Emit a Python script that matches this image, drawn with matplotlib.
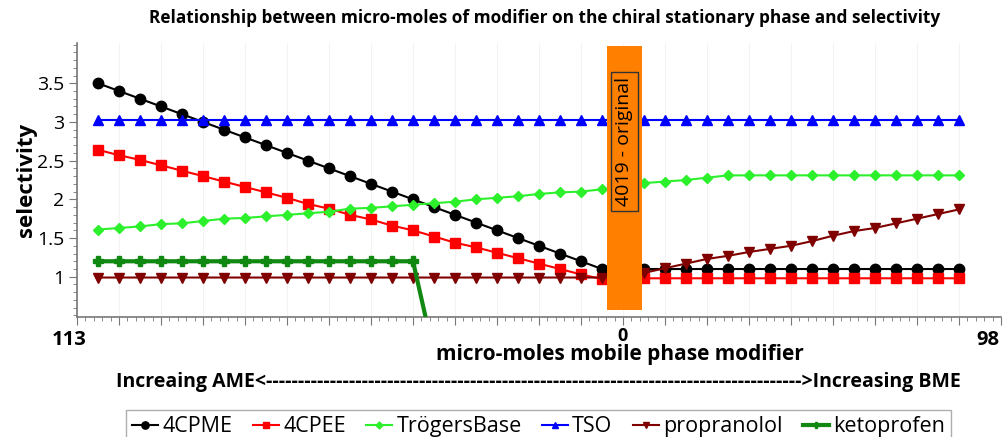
import numpy as np
import matplotlib
matplotlib.use("Agg")
import matplotlib.pyplot as plt
from matplotlib.ticker import MultipleLocator, FixedLocator

plt.rcParams['font.family'] = ['Open Sans', 'DejaVu Sans']

# ===== dados =====
# posicoes dos pontos (passos ao longo do eixo; 0 = coluna original 4019)
x_pos = list(range(-25, 17))

cpme = [3.5, 3.4, 3.3, 3.2, 3.1, 3.0, 2.9, 2.8, 2.7, 2.6, 2.5, 2.4, 2.3,
        2.2, 2.1, 2.0, 1.9, 1.8, 1.7, 1.6, 1.5, 1.4, 1.3, 1.2, 1.1,
        1.1,
        1.1, 1.1, 1.1, 1.1, 1.1, 1.1, 1.1, 1.1, 1.1, 1.1, 1.1, 1.1, 1.1, 1.1, 1.1, 1.1]
cpee = [2.64, 2.57, 2.51, 2.44, 2.37, 2.30, 2.23, 2.16, 2.09, 2.02, 1.94, 1.88, 1.80,
        1.74, 1.66, 1.60, 1.52, 1.44, 1.38, 1.31, 1.24, 1.17, 1.10, 1.03, 0.97,
        0.98,
        0.98, 0.98, 0.98, 0.98, 0.98, 0.98, 0.98, 0.98, 0.98, 0.98, 0.98, 0.98, 0.98, 0.98, 0.98, 0.98]
troger = [1.61, 1.63, 1.65, 1.68, 1.69, 1.72, 1.75, 1.76, 1.78, 1.80, 1.82, 1.84, 1.88,
          1.89, 1.91, 1.93, 1.95, 1.97, 2.00, 2.02, 2.04, 2.07, 2.09, 2.10, 2.13,
          2.17,
          2.21, 2.23, 2.25, 2.28, 2.31, 2.31, 2.31, 2.31, 2.31, 2.31, 2.31, 2.31, 2.31, 2.31, 2.31, 2.31]
tso = [3.03, 3.03, 3.03, 3.03, 3.03, 3.03, 3.03, 3.03, 3.03, 3.03, 3.03, 3.03, 3.03,
       3.03, 3.03, 3.03, 3.03, 3.03, 3.03, 3.03, 3.03, 3.03, 3.03, 3.03, 3.03,
       3.03,
       3.03, 3.03, 3.03, 3.03, 3.03, 3.03, 3.03, 3.03, 3.03, 3.03, 3.03, 3.03, 3.03, 3.03, 3.03, 3.03]
propranolol = [0.99, 0.99, 0.99, 0.99, 0.99, 0.99, 0.99, 0.99, 0.99, 0.99, 0.99, 0.99, 0.99,
               0.99, 0.99, 0.99, 0.99, 0.99, 0.99, 0.99, 0.99, 0.99, 0.99, 0.99, 0.99,
               0.99,
               1.05, 1.11, 1.17, 1.23, 1.27, 1.32, 1.36, 1.40, 1.46, 1.53, 1.59, 1.63, 1.69, 1.75, 1.81, 1.87]
ketoprofen = [1.2, 1.2, 1.2, 1.2, 1.2, 1.2, 1.2, 1.2, 1.2, 1.2, 1.2, 1.2, 1.2,
              1.2, 1.2, 1.2, 0.0]

series_names = ["4CPME", "4CPEE", "TrögersBase", "TSO", "propranolol", "ketoprofen"]
x_end_labels = ["113", "0", "98"]

# faixa laranja da coluna original
band_x, band_w = 0.07, 1.66
band_bottom, band_top = 0.57, 3.98

# ===== figura =====
fig = plt.figure(figsize=(10.05, 4.37), dpi=100)
ax = fig.add_axes([0.0766, 0.2746, 0.9194, 0.627])

ax.plot(x_pos, cpme, color="black", lw=1.5, marker="o", ms=7.5, label=series_names[0], zorder=3)
ax.plot(x_pos, cpee, color="#ff0000", lw=1.5, marker="s", ms=7, label=series_names[1], zorder=3)
ax.plot(x_pos, troger, color="#2cf02c", lw=1.5, marker="D", ms=5, label=series_names[2], zorder=3)
ax.plot(x_pos, tso, color="#0000ff", lw=1.5, marker="^", ms=7, label=series_names[3], zorder=3)
ax.plot(x_pos, propranolol, color="#800000", lw=1.5, marker="v", ms=7, label=series_names[4], zorder=3)
ax.plot(x_pos[:len(ketoprofen)], ketoprofen, color="#118811", lw=3, marker="P", ms=7,
        label=series_names[5], zorder=4)

ax.bar(band_x, band_top - band_bottom, width=band_w, bottom=band_bottom,
       color="#ff7f00", zorder=5)
ax.text(band_x, 2.75, "4019 - original", rotation=90, ha="center", va="center",
        fontsize=14, zorder=6,
        bbox=dict(boxstyle="square,pad=0.25", fc="#ff7f00", ec="#333333", lw=1))

ax.set_xlim(-26, 18)
ax.set_ylim(0.48, 4.02)

for s in ["top", "right"]:
    ax.spines[s].set_visible(False)
for s in ["left", "bottom"]:
    ax.spines[s].set_color("#777777")
    ax.spines[s].set_linewidth(1.2)

ax.xaxis.set_major_locator(MultipleLocator(2))
ax.xaxis.set_minor_locator(MultipleLocator(0.4))
ax.set_xticklabels([x_end_labels[1] if abs(t) < 1e-9 else "" for t in ax.get_xticks()])
ax.yaxis.set_major_locator(FixedLocator([1, 1.5, 2, 2.5, 3, 3.5]))
ax.yaxis.set_minor_locator(MultipleLocator(0.1))
ax.set_yticklabels(["1", "1.5", "2", "2.5", "3", "3.5"])

ax.tick_params(axis="both", which="major", direction="out", length=6, color="#777777")
ax.tick_params(axis="both", which="minor", direction="out", length=3, color="#777777")
ax.tick_params(axis="y", labelsize=14, pad=3)
ax.tick_params(axis="x", labelsize=13, pad=1)
for lab in ax.get_xticklabels():
    lab.set_fontweight("bold")

ax.grid(axis="x", which="major", color="#f3f3f3", lw=0.8)
ax.set_axisbelow(True)

fig.text(0.069, 0.222, x_end_labels[0], ha="center", va="center", fontsize=14.5, weight="bold")
fig.text(0.983, 0.222, x_end_labels[2], ha="center", va="center", fontsize=14.5, weight="bold")

fig.text(0.542, 0.958, "Relationship between micro-moles of modifier on the chiral stationary phase and selectivity",
         ha="center", va="center", fontsize=12.4, weight="bold")
fig.text(0.026, 0.588, "selectivity", rotation=90, ha="center", va="center", fontsize=16, weight="bold")
fig.text(0.617, 0.188, "micro-moles mobile phase modifier", ha="center", va="center",
         fontsize=15, weight="bold")
fig.text(0.536, 0.126, "Increaing AME<" + "-" * 84 + ">Increasing BME", ha="center", va="center",
         fontsize=14, weight="bold")

leg = fig.legend(loc="upper center", bbox_to_anchor=(0.536, 0.087), ncol=6,
                 prop={"size": 15.5},
                 frameon=True, fancybox=False, edgecolor="#999999",
                 handlelength=1.2, handletextpad=0.2, columnspacing=0.95,
                 borderpad=0.3, markerscale=0.7)
leg.get_frame().set_linewidth(1)

fig.savefig("out.png", dpi=100)
